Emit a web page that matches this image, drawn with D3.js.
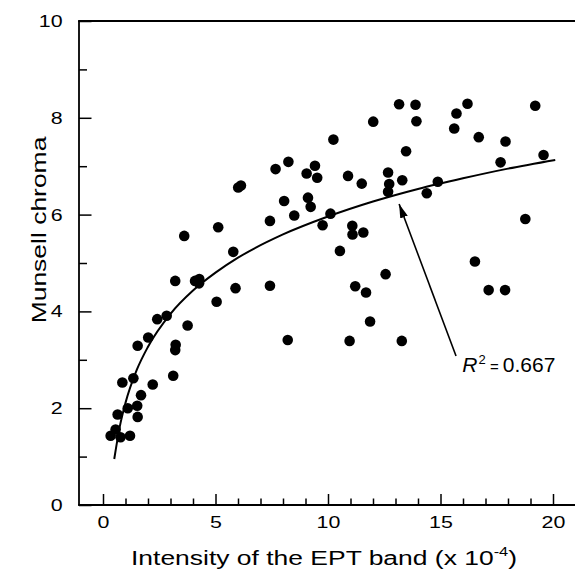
<!DOCTYPE html>
<html>
<head>
<meta charset="utf-8">
<script src="https://cdn.jsdelivr.net/npm/d3@7"></script>
<style>
  html, body { margin: 0; padding: 0; background: #fff; }
  svg { display: block; }
  text { font-family: "Liberation Sans", Arial, Helvetica, sans-serif; fill: #000; }
</style>
</head>
<body>
<svg id="chart" width="575" height="575"></svg>
<script>
// ---- data ----
const intensity = [0.34,0.56,0.78,1.20,0.65,1.10,1.52,1.54,1.69,0.86,1.35,2.21,3.12,1.54,2.01,2.41,2.83,3.23,3.21,3.76,
  3.21,4.09,4.28,4.27,5.05,5.89,7.42,8.21,3.61,5.12,5.79,6.01,6.13,7.42,7.67,8.24,8.05,8.50,9.05,9.42,
  9.52,9.11,9.23,9.76,10.11,10.24,10.89,11.50,12.01,13.16,13.89,13.93,13.47,12.67,12.72,12.67,13.30,14.39,14.88,15.71,
  16.20,15.61,16.70,17.89,17.67,19.21,19.58,11.08,11.09,11.57,10.53,12.56,11.21,11.69,11.87,10.96,13.28,18.77,16.53,17.14,17.87];
const chroma = [1.43,1.56,1.40,1.43,1.87,2.00,2.05,1.82,2.27,2.53,2.62,2.49,2.67,3.29,3.46,3.84,3.91,3.31,3.20,3.71,
  4.63,4.63,4.67,4.58,4.20,4.48,4.53,3.41,5.56,5.74,5.23,6.56,6.60,5.87,6.94,7.09,6.28,5.98,6.85,7.01,
  6.76,6.35,6.16,5.78,6.02,7.55,6.80,6.64,7.92,8.28,8.27,7.93,7.31,6.87,6.63,6.47,6.71,6.44,6.68,8.09,
  8.29,7.78,7.60,7.51,7.08,8.25,7.23,5.77,5.59,5.63,5.25,4.77,4.52,4.39,3.79,3.39,3.39,5.91,5.03,4.44,4.44];
// fitted logarithmic trend line
const fitX = [0.5,0.75,1,1.5,2,3,4,5,6,8,10,12,14,16,18,20.1];
const fitY = [0.95,1.63,2.11,2.79,3.27,3.95,4.43,4.80,5.11,5.59,5.96,6.27,6.53,6.75,6.95,7.13];
const xMajor = [0,5,10,15,20];
const xMinor = d3.range(0,21,1);
const yMajor = [0,2,4,6,8,10];
const yMinor = d3.range(0,11,1);
const xTitle = "Intensity of the EPT band (x 10";
const xTitleSup = "-4";
const yTitle = "Munsell chroma";
const r2Label = "0.667";
const arrowFrom = [15.69, 3.08], arrowTo = [13.16, 6.22];
const labelPos = [15.97, 2.75];

// ---- layout ----
const svg = d3.select("#chart");
const W = 575;
const x = d3.scaleLinear().domain([0,20]).range([103,553]);
const y = d3.scaleLinear().domain([0,10]).range([505,21]);
const left = x.invert(79), right = x.invert(575);
const STRETCH = 1.26;

// frame lines
const frame = svg.append("g").attr("stroke","#000").attr("stroke-width",1.8).attr("fill","none");
frame.append("line").attr("x1",x(left)-0.9).attr("x2",x(right)).attr("y1",y(0)).attr("y2",y(0));
frame.append("line").attr("x1",x(left)-0.9).attr("x2",x(right)).attr("y1",y(10)).attr("y2",y(10));
frame.append("line").attr("x1",x(left)).attr("x2",x(left)).attr("y1",y(10)).attr("y2",y(0));

// x axis ticks
const xMinorAxis = svg.append("g").attr("transform",`translate(0,${y(0)})`)
  .call(d3.axisBottom(x).tickValues(xMinor.filter(v=>!xMajor.includes(v))).tickSize(-6.5).tickFormat(""));
const xMajorAxis = svg.append("g").attr("transform",`translate(0,${y(0)})`)
  .call(d3.axisBottom(x).tickValues(xMajor).tickSize(-11).tickPadding(11).tickFormat(d3.format("d")));
[xMinorAxis,xMajorAxis].forEach(g=>{
  g.select(".domain").remove();
  g.selectAll("line").attr("stroke","#000").attr("stroke-width",1.5);
});
xMajorAxis.selectAll("text").attr("font-size",17).attr("font-family","Liberation Sans, Arial, sans-serif")
  .attr("transform",`scale(${STRETCH},1)`);

// y axis ticks
const yMinorAxis = svg.append("g").attr("transform",`translate(${x(left)},0)`)
  .call(d3.axisLeft(y).tickValues(yMinor.filter(v=>!yMajor.includes(v))).tickSize(-8).tickFormat(""));
const yMajorAxis = svg.append("g").attr("transform",`translate(${x(left)},0)`)
  .call(d3.axisLeft(y).tickValues(yMajor).tickSize(-12.5).tickPadding(13).tickFormat(d3.format("d")));
[yMinorAxis,yMajorAxis].forEach(g=>{
  g.select(".domain").remove();
  g.selectAll("line").attr("stroke","#000").attr("stroke-width",1.5);
});
yMajorAxis.selectAll("text").attr("font-size",17).attr("font-family","Liberation Sans, Arial, sans-serif")
  .attr("transform",`scale(${STRETCH},1)`);

// trend curve
const pts = fitX.map((v,i)=>[v,fitY[i]]);
svg.append("path").datum(pts)
  .attr("d", d3.line().x(d=>x(d[0])).y(d=>y(d[1])).curve(d3.curveMonotoneX))
  .attr("fill","none").attr("stroke","#000").attr("stroke-width",2);

// points
svg.append("g").selectAll("circle").data(intensity.map((v,i)=>[v,chroma[i]]))
  .join("circle").attr("cx",d=>x(d[0])).attr("cy",d=>y(d[1])).attr("r",5.3).attr("fill","#000");

// arrow annotation
const defs = svg.append("defs");
defs.append("marker").attr("id","ah").attr("viewBox","0 0 14 8").attr("refX",14).attr("refY",4)
  .attr("markerWidth",14).attr("markerHeight",8).attr("markerUnits","userSpaceOnUse").attr("orient","auto")
  .append("path").attr("d","M0,0 L14,4 L0,8 Z").attr("fill","#000");
svg.append("line").attr("x1",x(arrowFrom[0])).attr("y1",y(arrowFrom[1]))
  .attr("x2",x(arrowTo[0])).attr("y2",y(arrowTo[1]))
  .attr("stroke","#000").attr("stroke-width",1.6).attr("marker-end","url(#ah)");

const r2 = svg.append("text").attr("x",x(labelPos[0])).attr("y",y(labelPos[1])).attr("font-size",21);
r2.append("tspan").attr("font-style","italic").text("R");
r2.append("tspan").attr("font-size",13).attr("dy",-8).attr("dx",1).text("2");
r2.append("tspan").attr("dy",8).attr("font-size",15).text(" = ");
r2.append("tspan").text(r2Label);

// axis titles
const xt = svg.append("text").attr("text-anchor","middle").attr("font-size",21)
  .attr("transform",`translate(${(x(left)+W)/2 - 3},565) scale(${STRETCH},1)`);
xt.append("tspan").text(xTitle);
xt.append("tspan").attr("font-size",13).attr("dy",-9).text(xTitleSup);
xt.append("tspan").attr("dy",9).text(")");

svg.append("text").attr("text-anchor","middle").attr("font-size",21)
  .attr("transform",`translate(46,230) rotate(-90) scale(${STRETCH},1)`)
  .text(yTitle);
</script>
</body>
</html>
